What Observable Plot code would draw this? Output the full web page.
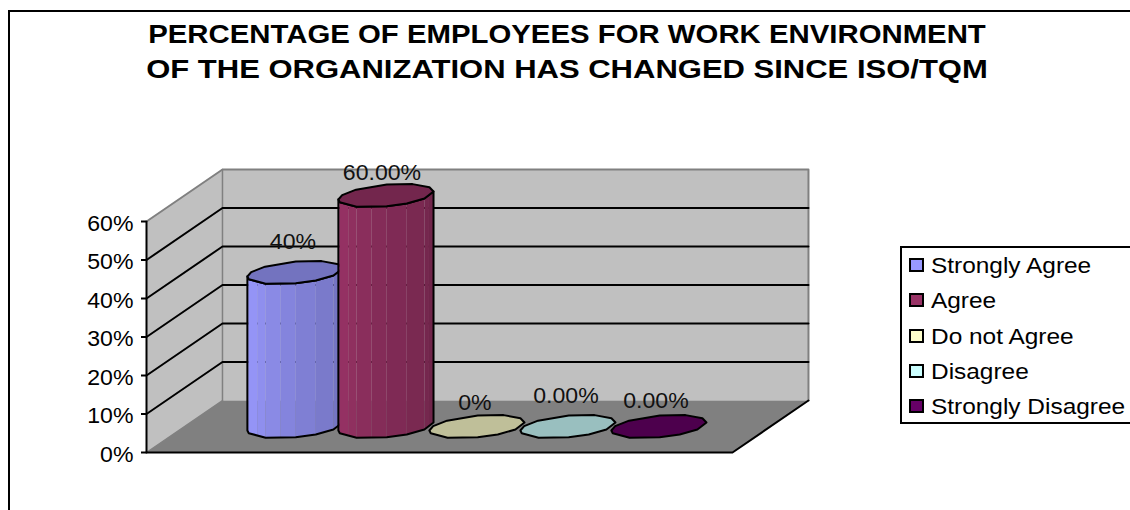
<!DOCTYPE html>
<html>
<head>
<meta charset="utf-8">
<script src="https://cdn.jsdelivr.net/npm/d3@7"></script>
<script src="https://cdn.jsdelivr.net/npm/@observablehq/plot@0.6"></script>
<style>
  html, body { margin: 0; padding: 0; background: #fff; overflow: hidden; }
  #chart { position: relative; width: 1130px; height: 510px; font-family: "Liberation Sans", Arial, sans-serif; color: #000; }
  #chart svg { position: absolute; left: 0; top: 0; }
  #border { position: absolute; left: 8px; top: 10px; width: 1130px; height: 510px; border: 2px solid #000; box-sizing: border-box; }
  #title { position: absolute; left: 0; width: 1134px; top: 17px; text-align: center; font-weight: bold; font-size: 25px; line-height: 35px; }
  #title div { white-space: nowrap; }
  #legend { position: absolute; left: 900px; top: 246px; width: 240px; height: 178px; box-sizing: border-box; border: 2px solid #000; background: #fff; }
  .entry { position: absolute; left: 7px; height: 35px; white-space: nowrap; font-size: 22px; line-height: 35px; }
  .entry i { position: absolute; left: 0; top: 10px; width: 15px; height: 14px; box-sizing: border-box; border: 2px solid #000; }
  .entry span { position: absolute; left: 22px; transform: scaleX(1.11); transform-origin: left center; }
</style>
</head>
<body>
<div id="chart">
  <div id="border"></div>
  <div id="title"></div>
  <div id="legend"></div>
</div>
<script>
// Survey responses
const titleLines = [
  "PERCENTAGE OF EMPLOYEES FOR WORK ENVIRONMENT",
  "OF THE ORGANIZATION HAS CHANGED SINCE ISO/TQM"
];
const titleStretch = [1.174, 1.24];
const seriesNames = ["Strongly Agree", "Agree", "Do not Agree", "Disagree", "Strongly Disagree"];
const seriesValues = [40, 60, 0, 0, 0];
const valueLabels = ["40%", "60.00%", "0%", "0.00%", "0.00%"];
const seriesColors = ["#9999FF", "#993366", "#FFFFCC", "#CCFFFF", "#660066"];
const yTicks = [0, 10, 20, 30, 40, 50, 60];

// Oblique projection: depth 0 is the front of the floor, depth 1 the back wall.
const floorSlots = 6.44;    // floor width, in cylinder widths
const firstSlot = 1.214;    // centre of the first cylinder
const depthX = 0.835;       // horizontal shift of full depth, in slots
const depthY = 13.5;        // vertical shift of full depth, in percentage points
const yMax = 60;
const radiusX = 0.488;      // cylinder radius along x, in slots
const radiusDepth = 0.225;  // cylinder radius along depth

// The rim is a coarse polygon; angles in degrees, the front arc joins the two silhouette edges.
const frontArc = [200, 215, 253, 292, 317, 345, 380];
const frontSplits = [1, 2, 2, 1, 1, 2];   // shading stripes per front segment
const rearArc = [45, 77, 110, 150, 178];

const project = (x, v, d) => ({x: x + depthX * d, y: v + depthY * d});
const wall = (id, fill, corners) =>
  corners.map(([x, v, d]) => ({id, fill, ...project(x, v, d)}));

const rimCoords = (i, deg) => {
  const t = (deg * Math.PI) / 180;
  return [firstSlot + i + radiusX * Math.cos(t), 0.5 + radiusDepth * Math.sin(t)];
};
const rimPoint = (i, deg, v) => {
  const [x, d] = rimCoords(i, deg);
  return project(x, v, d);
};

function cylinderMarks(i) {
  const value = seriesValues[i];
  const base = d3.color(seriesColors[i]);
  const shade = (f) => d3.rgb(base.r * f, base.g * f, base.b * f).formatHex();
  const marks = [];
  if (value > 0) {
    // Split the front arc into stripes, darkening from left to right.
    const stops = [];
    frontSplits.forEach((parts, s) => {
      const a = rimCoords(i, frontArc[s]), b = rimCoords(i, frontArc[s + 1]);
      d3.range(parts).forEach((p) => stops.push([a[0] + (b[0] - a[0]) * p / parts, a[1] + (b[1] - a[1]) * p / parts]));
    });
    stops.push(rimCoords(i, frontArc[frontArc.length - 1]));
    const facets = d3.range(stops.length - 1).flatMap((n) => {
      const fill = shade(1 - 0.27 * n / (stops.length - 2));
      const [p, q] = [stops[n], stops[n + 1]];
      return [[p, 0], [q, 0], [q, value], [p, value]].map(([c, v]) => ({...project(c[0], v, c[1]), z: n, fill}));
    });
    marks.push(Plot.line(facets, {x: "x", y: "y", z: "z", fill: "fill", stroke: null, curve: "linear-closed"}));
    const outline = [
      ...frontArc.map((deg) => rimPoint(i, deg, 0)),
      ...frontArc.slice().reverse().map((deg) => rimPoint(i, deg, value))
    ];
    marks.push(Plot.line(outline, {x: "x", y: "y", stroke: "#000", strokeWidth: 2, curve: "linear-closed"}));
  }
  const rim = [...frontArc, ...rearArc].map((deg) => rimPoint(i, deg, value));
  marks.push(Plot.line(rim, {x: "x", y: "y", fill: shade(0.75), stroke: "#000", strokeWidth: 2, curve: "linear-closed"}));
  return marks;
}

const walls = [
  ...wall("side", "#C0C0C0", [[0, 0, 0], [0, yMax, 0], [0, yMax, 1], [0, 0, 1]]),
  ...wall("back", "#C0C0C0", [[0, 0, 1], [0, yMax, 1], [floorSlots, yMax, 1], [floorSlots, 0, 1]]),
  ...wall("floor", "#808080", [[0, 0, 0], [0, 0, 1], [floorSlots, 0, 1], [floorSlots, 0, 0]])
];
const grid = yTicks.slice(1, -1).flatMap((v) => [
  {id: v, ...project(0, v, 0)},
  {id: v, ...project(0, v, 1)},
  {id: v, ...project(floorSlots, v, 1)}
]);
const wallEdge = [[0, yMax, 0], [0, yMax, 1], [floorSlots, yMax, 1], [floorSlots, 0, 1]].map((c) => project(...c));
const sideFoot = [[0, 0, 0], [0, 0, 1]].map((c) => project(...c));
const backFoot = [[0, 0, 1], [0, yMax, 1]].map((c) => project(...c));
const floorFront = [[0, 0, 0], [floorSlots, 0, 0], [floorSlots, 0, 1]].map((c) => project(...c));
const axisLine = [[0, 0, 0], [0, yMax, 0]].map((c) => project(...c));

// Nudges of each value label above its cylinder top, in pixels.
const labelOffsets = [[-2, -31], [-4, -23], [-2, -24], [-2, -31], [-3, -26]];

const axisOptions = {ticks: yTicks, label: null};

const plot = Plot.plot({
  width: 1130,
  height: 510,
  marginLeft: 146,
  marginRight: 398,
  marginTop: 221,
  marginBottom: 58,
  style: {background: "transparent", fontFamily: "'Liberation Sans', Arial, sans-serif", overflow: "visible"},
  x: {domain: [0, floorSlots], axis: null},
  y: {domain: [0, yMax], label: null, axis: null},
  marks: [
    Plot.line(walls, {x: "x", y: "y", z: "id", fill: "fill", stroke: null, curve: "linear-closed"}),
    Plot.line(wallEdge, {x: "x", y: "y", stroke: "#808080", strokeWidth: 2}),
    Plot.line(sideFoot, {x: "x", y: "y", stroke: "#808080", strokeWidth: 1.5}),
    Plot.line(backFoot, {x: "x", y: "y", stroke: "#808080", strokeWidth: 1.5}),
    Plot.line(grid, {x: "x", y: "y", z: "id", stroke: "#000", strokeWidth: 2}),
    Plot.line(floorFront, {x: "x", y: "y", stroke: "#000", strokeWidth: 2}),
    Plot.line(axisLine, {x: "x", y: "y", stroke: "#000", strokeWidth: 2}),
    // Tick marks sit on the values; their labels hang slightly lower.
    Plot.axisY({...axisOptions, tickSize: 5, stroke: "#000", strokeWidth: 2, fill: "none"}),
    Plot.axisY({
      ...axisOptions,
      tickFormat: (d) => `${d}%`,
      tickSize: 0,
      tickPadding: 13,
      dy: 2,
      fontSize: 22,
      fill: "#000"
    }),
    ...seriesValues.flatMap((_, i) => cylinderMarks(i)),
    ...valueLabels.map((text, i) =>
      Plot.text([project(firstSlot + i, seriesValues[i], 0.5)], {
        x: "x", y: "y", text: () => text,
        dx: labelOffsets[i][0], dy: labelOffsets[i][1],
        fontSize: 22, fill: "#111"
      })
    )
  ]
});

// Labels are set slightly wide: stretch each about its own anchor.
d3.select(plot).selectAll("text").attr("transform", function () {
  const t = this.getAttribute("transform") || "";
  return `${t} scale(1.05,1)`;
});
document.getElementById("chart").insertBefore(plot, document.getElementById("border"));

d3.select("#title").selectAll("div").data(titleLines).join("div")
  .style("transform", (_, i) => `scaleX(${titleStretch[i]})`)
  .text((d) => d);

const entries = d3.select("#legend").selectAll("div").data(seriesNames).join("div")
  .attr("class", "entry")
  .style("top", (_, i) => `${i * 35.3}px`);
entries.append("i").style("background", (_, i) => seriesColors[i]);
entries.append("span").text((d) => d);
</script>
</body>
</html>
